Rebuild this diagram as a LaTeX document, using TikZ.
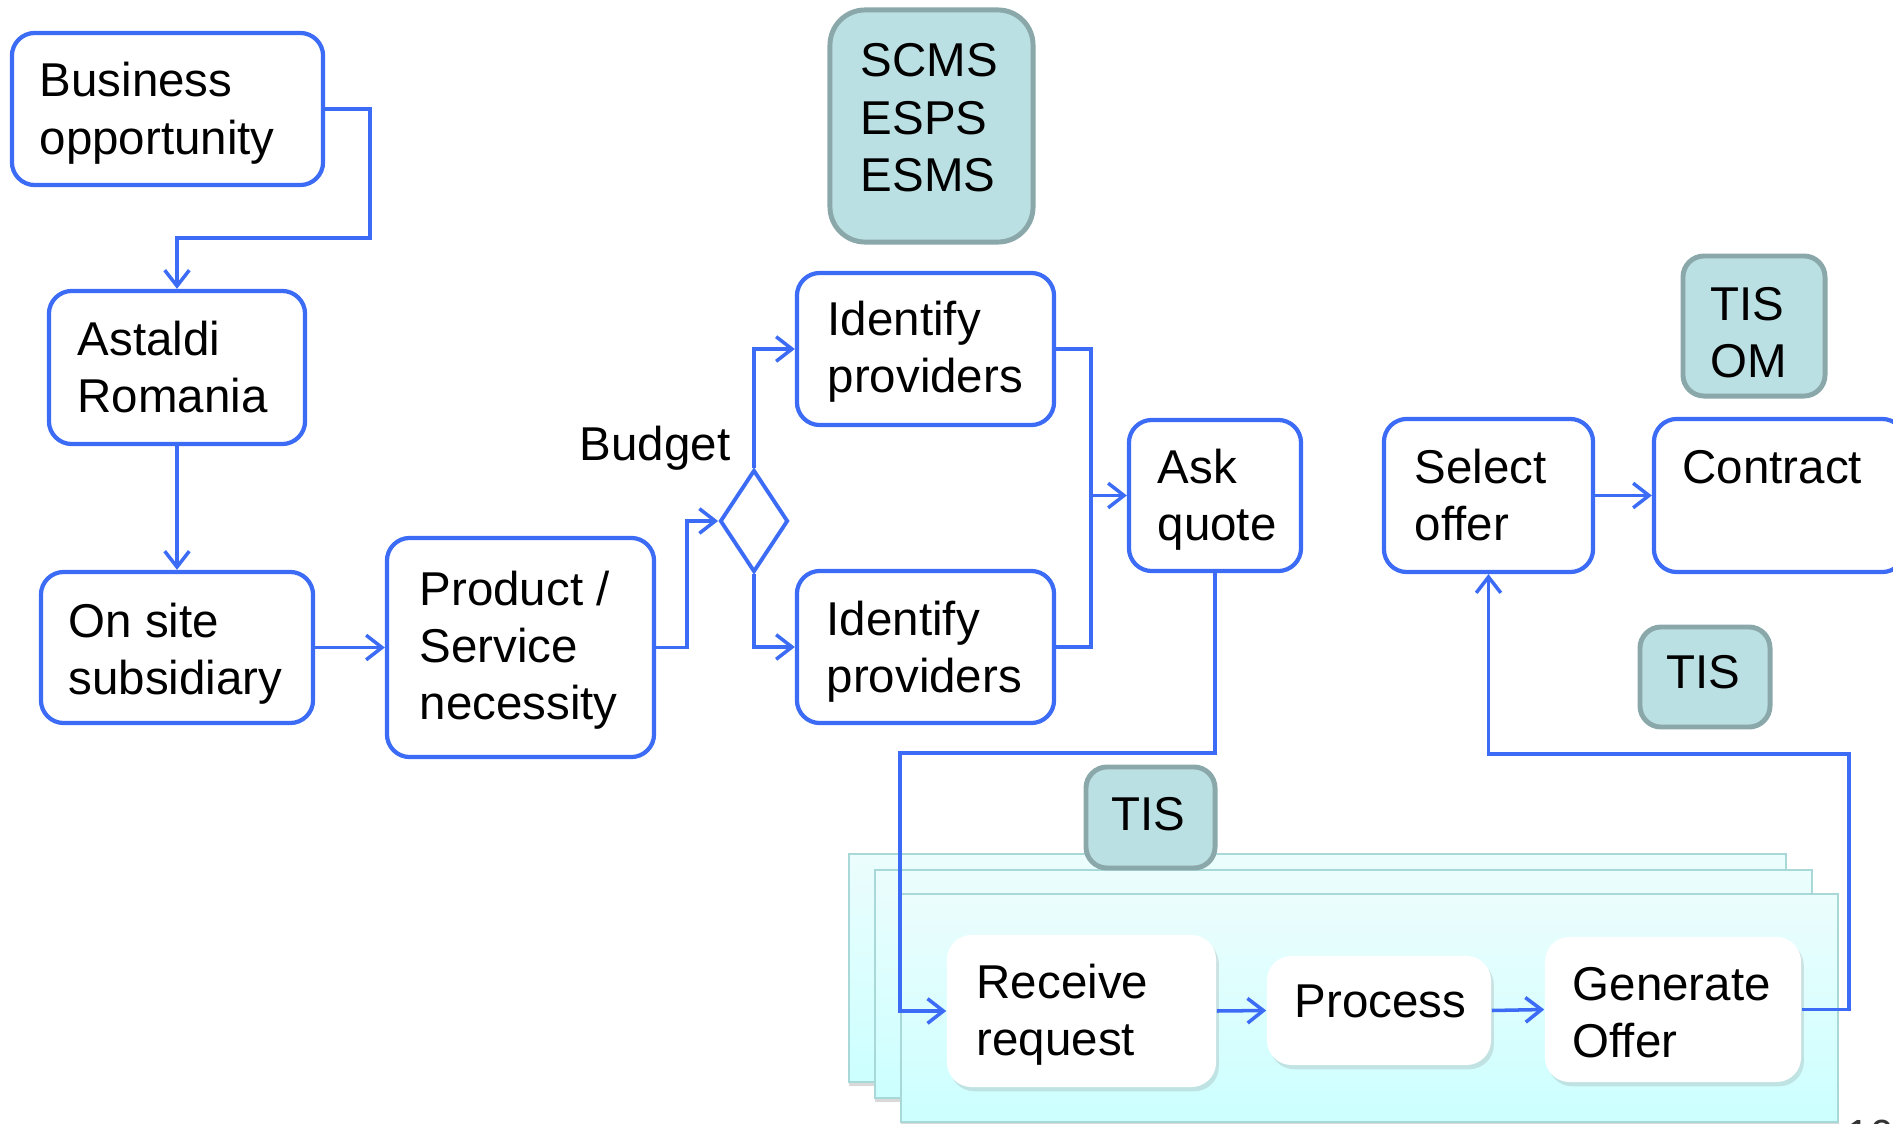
\documentclass[tikz,border=0pt]{standalone}
\usepackage{fontspec}
\setmainfont{Liberation Sans}
\usetikzlibrary{arrows.meta,shapes.geometric,shadows}

\definecolor{flowblue}{RGB}{60,108,245}
\definecolor{tagfill}{RGB}{187,224,227}
\definecolor{tagline}{RGB}{138,167,169}
\definecolor{pagetop}{RGB}{236,253,253}
\definecolor{pagebottom}{RGB}{204,255,255}
\definecolor{pageline}{RGB}{168,216,216}

\newcommand\mainfs{\fontsize{13.5}{16.3}\selectfont}
\newcommand\stacked[1]{\begin{tabular}[t]{@{}l@{}}#1\end{tabular}}

\begin{document}
\begin{tikzpicture}[x=0.01cm,y=-0.01cm,
  procbox/.style={draw=flowblue, line width=1.2pt, rounded corners=6.5pt, fill=white, inner sep=0pt},
  tagbox/.style={draw=tagline, fill=tagfill, line width=1.4pt, rounded corners=6pt, inner sep=0pt},
  pagebox/.style={draw=pageline, line width=0.6pt, top color=pagetop, bottom color=pagebottom,
    inner sep=0pt, minimum width=9.37cm, minimum height=2.28cm,
    drop shadow={shadow xshift=0.2pt, shadow yshift=-1.2pt, opacity=0.3}},
  cardbox/.style={fill=white, rounded corners=7pt, inner sep=0pt,
    drop shadow={shadow xshift=0.8pt, shadow yshift=-1.2pt, opacity=0.22}},
  txt/.style={anchor=base west, inner sep=0pt, font=\mainfs},
  wire/.style={draw=flowblue, line width=1pt},
  conn/.style={wire, -{Straight Barb[length=4.5pt,width=7pt]}},
]
\useasboundingbox (0,0) rectangle (1893,1124);

% stacked pages of the offer sub-process
\node[pagebox] (pg1) at (1317.5,968) {};
\node[pagebox] (pg2) at (1343.5,984) {};
\node[pagebox] (pg3) at (1369.5,1008) {};

% process boxes
\node[procbox, minimum width=3.11cm, minimum height=1.52cm] (bo) at (167.5,109) {};
\node[procbox, minimum width=2.56cm, minimum height=1.53cm] (ar) at (177,367.5) {};
\node[procbox, minimum width=2.72cm, minimum height=1.51cm] (os) at (177,647.5) {};
\node[procbox, minimum width=2.67cm, minimum height=2.19cm] (ps) at (520.5,647.5) {};
\node[procbox, minimum width=2.57cm, minimum height=1.52cm] (ip1) at (925.5,349) {};
\node[procbox, minimum width=2.57cm, minimum height=1.52cm] (ip2) at (925.5,647) {};
\node[procbox, minimum width=1.72cm, minimum height=1.51cm] (aq) at (1215,495.5) {};
\node[procbox, minimum width=2.09cm, minimum height=1.53cm] (so) at (1488.5,495.5) {};
\node[procbox, minimum width=2.51cm, minimum height=1.53cm] (ct) at (1779.5,495.5) {};
\node[diamond, draw=flowblue, line width=1.1pt, fill=white, inner sep=0pt,
      minimum width=0.68cm, minimum height=1.02cm] (dm) at (754,521) {};

% white cards on the pages
\node[cardbox, minimum width=2.69cm, minimum height=1.52cm] (rr) at (1081.5,1011) {};
\node[cardbox, minimum width=2.24cm, minimum height=1.09cm] (pr) at (1379,1010.5) {};
\node[cardbox, minimum width=2.56cm, minimum height=1.45cm] (go) at (1673,1009.5) {};

% system tags
\node[tagbox, rounded corners=10pt, minimum width=2.03cm, minimum height=2.32cm] (tg1) at (931.5,126) {};
\node[tagbox, minimum width=1.42cm, minimum height=1.40cm] (tg2) at (1754,326) {};
\node[tagbox, minimum width=1.30cm, minimum height=1.00cm] (tg3) at (1705,677) {};
\node[tagbox, minimum width=1.29cm, minimum height=1.01cm] (tg4) at (1150.5,817.5) {};

% labels
\node[txt] (l-bo) at (39,97) {\stacked{Business\\opportunity}};
\node[txt] (l-ar) at (77,355) {\stacked{Astaldi\\Romania}};
\node[txt] (l-os) at (68,637) {\stacked{On site\\subsidiary}};
\node[txt] (l-ps) at (419,605) {\stacked{Product /\\Service\\necessity}};
\node[txt] (l-ip1) at (827,335) {\stacked{Identify\\providers}};
\node[txt] (l-ip2) at (826,635) {\stacked{Identify\\providers}};
\node[txt] (l-aq) at (1157,483) {\stacked{Ask\\quote}};
\node[txt] (l-so) at (1414,483) {\stacked{Select\\offer}};
\node[txt] (l-ct) at (1682,483) {Contract};
\node[txt] (l-rr) at (976,998) {\stacked{Receive\\request}};
\node[txt] (l-pr) at (1294,1017) {Process};
\node[txt] (l-go) at (1572,1000) {\stacked{Generate\\Offer}};
\node[txt] (l-tg1) at (860,77) {\stacked{SCMS\\ESPS\\ESMS}};
\node[txt] (l-tg2) at (1710,320) {\stacked{TIS\\OM}};
\node[txt] (l-tg3) at (1666,688) {TIS};
\node[txt] (l-tg4) at (1111,830) {TIS};
\node[anchor=base east, inner sep=0pt, font=\mainfs] (bud) at (731,460) {Budget};
\node[anchor=north west, inner sep=0pt, font=\fontsize{12}{14}\selectfont, text=black!80] (pgno) at (1846,1119) {10};

% connectors
\coordinate (jn) at (1091,495.5);
\draw[conn] (bo.east) -| (370,238) -| (ar.north);
\draw[conn] (ar.south) -- (os.north);
\draw[conn] (os.east) -- (ps.west);
\draw[conn] (ps.east) -| (687,521) -- (dm.west);
\draw[conn] (dm.north) |- (ip1.west);
\draw[conn] (dm.south) |- (ip2.west);
\draw[wire] (ip1.east) -| (jn) |- (ip2.east);
\draw[conn] (jn) -- (aq.west);
\draw[conn] (aq.south) |- (900,753) |- (rr.west);
\draw[conn] (rr.east) -- (pr.west);
\draw[conn] (pr.east) -- (go.west);
\draw[conn] (go.east) -| (1849,754) -| (so.south);
\draw[conn] (so.east) -- (ct.west);
\end{tikzpicture}
\end{document}
